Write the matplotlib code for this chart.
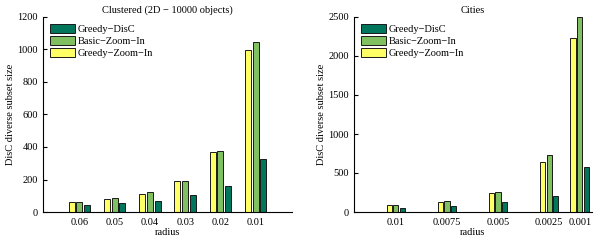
import numpy as np
import matplotlib
matplotlib.use("Agg")
from matplotlib import pyplot as plt

plt.rcParams['font.family'] = ['Liberation Serif', 'DejaVu Serif']
plt.rcParams['font.size'] = 7.5

# left panel: clustered data
radius_cl = [0.06, 0.05, 0.04, 0.03, 0.02, 0.01]
cl_greedy_zoom = [60, 80, 113, 189, 369, 997]
cl_basic_zoom = [60, 84, 121, 191, 377, 1044]
cl_greedy_disc = [43, 53, 70, 103, 162, 326]

# right panel: cities
radius_ci = [0.01, 0.0075, 0.005, 0.0025, 0.001]
ci_greedy_zoom = [90, 132, 240, 645, 2231]
ci_basic_zoom = [94, 145, 253, 731, 2500]
ci_greedy_disc = [55, 77, 128, 209, 573]

names = ['Greedy\u2212Zoom\u2212In', 'Basic\u2212Zoom\u2212In', 'Greedy\u2212DisC']
colors = ['#ffff66', '#80c060', '#00765c']


def draw(ax, x, series, step, width, xlim, ylim, yticks, title):
  x = np.array(x)
  bars = []
  for k, (vals, c) in enumerate(zip(series, colors)):
    # reversed x axis, so shift the other way to keep yellow on the left
    b = ax.bar(x + (1 - k) * step, vals, width, color=c, edgecolor='#1a1a1a', linewidth=0.7)
    bars.append(b)
  ax.set_xlim(*xlim)
  ax.set_ylim(*ylim)
  ax.set_xticks(x)
  ax.set_xticklabels([('%g' % v) for v in x])
  ax.set_yticks(yticks)
  ax.spines['top'].set_visible(False)
  ax.spines['right'].set_visible(False)
  ax.tick_params(direction='in', length=3, width=0.8)
  ax.tick_params(axis='x', length=0, pad=4)
  ax.set_title(title, fontsize=7.5, pad=3)
  ax.set_xlabel('radius', labelpad=1)
  ax.set_ylabel('DisC diverse subset size', labelpad=2)
  ax.legend(bars[::-1], names[::-1], loc='upper left', frameon=False,
            handlelength=2.4, handleheight=0.95, labelspacing=0.18,
            handletextpad=0.25, borderaxespad=0.3, bbox_to_anchor=(0.0, 1.0))


fig = plt.figure(figsize=(6.02, 2.44), dpi=100)
ax1 = fig.add_axes([43 / 602, 32 / 244, 249 / 602, 195 / 244])
ax2 = fig.add_axes([354 / 602, 32 / 244, 238 / 602, 195 / 244])

draw(ax1, radius_cl, [cl_greedy_zoom, cl_basic_zoom, cl_greedy_disc],
     0.0022, 0.0017, (0.0703, -0.0003), (0, 1200), range(0, 1201, 200),
     'Clustered (2D \u2212 10000 objects)')
draw(ax2, radius_ci, [ci_greedy_zoom, ci_basic_zoom, ci_greedy_disc],
     0.00033, 0.00025, (0.01205, 0.0004), (0, 2500), range(0, 2501, 500),
     'Cities')

fig.savefig('out.png', dpi=100)
